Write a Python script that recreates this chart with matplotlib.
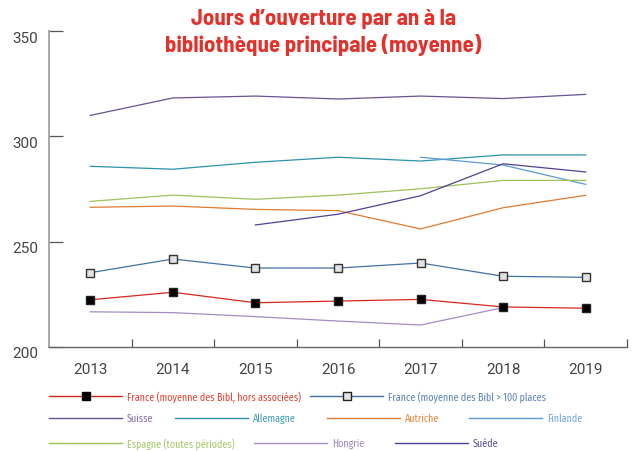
import numpy as np
import matplotlib
matplotlib.use("Agg")
import matplotlib.pyplot as plt
from matplotlib.lines import Line2D
import matplotlib.transforms as mtransforms

nan = np.nan

# data
years = ["2013", "2014", "2015", "2016", "2017", "2018", "2019"]
france_hors = [222.3, 225.9, 220.9, 221.7, 222.5, 218.9, 218.3]
france_100 = [235.2, 241.7, 237.4, 237.4, 239.8, 233.5, 233.0]
suisse = [310.0, 318.3, 319.2, 317.8, 319.2, 318.0, 320.0]
allemagne = [285.8, 284.4, 287.7, 290.1, 288.3, 291.2, 291.2]
autriche = [266.3, 266.9, 265.3, 264.7, 256.0, 266.1, 272.0]
finlande = [nan, nan, nan, nan, 290.1, 286.4, 277.2]
espagne = [269.1, 272.1, 270.1, 272.1, 275.1, 279.1, 279.1]
hongrie = [216.6, 216.2, 214.3, 212.2, 210.3, 218.6, nan]
suede = [nan, nan, 257.9, 263.0, 271.8, 287.0, 283.1]

labels = ["France (moyenne des Bibl, hors associées)",
          "France (moyenne des Bibl > 100 places",
          "Suisse", "Allemagne", "Autriche", "Finlande",
          "Espagne (toutes périodes)", "Hongrie", "Suède"]
series = [france_hors, france_100, suisse, allemagne, autriche,
          finlande, espagne, hongrie, suede]
line_colors = ["#d8281e", "#4470a8", "#6a5196", "#2b93ae", "#e07b2f",
               "#5b9bd5", "#9cc25a", "#a48bc4", "#553f98"]
text_colors = ["#e0402f", "#5b80b6", "#8068a8", "#3a9cb6", "#e3843a",
               "#6fa6d8", "#a3c666", "#9a83bd", "#5a4a9a"]

title_font = ["Barlow Semi Condensed", "Fira Sans Condensed", "DejaVu Sans"]
legend_font = ["Fira Sans Condensed", "Liberation Sans", "DejaVu Sans"]
plt.rcParams["font.family"] = ["Roboto", "DejaVu Sans"]

fig = plt.figure(figsize=(6.34, 4.52), dpi=100)
ax = fig.add_axes([49 / 634, 104.3 / 452, 578 / 634, 315.4 / 452])

x = np.arange(len(years))
for i, (vals, col) in enumerate(zip(series, line_colors)):
    if i == 0:
        ax.plot(x, vals, color=col, lw=0.9, marker="s", ms=5.8,
                mfc="black", mec="#222222", zorder=5)
    elif i == 1:
        ax.plot(x, vals, color=col, lw=0.9, marker="s", ms=5.8,
                mfc="#e2e2e2", mec="#333333", mew=1.0, zorder=5)
    else:
        ax.plot(x, vals, color=col, lw=0.9, zorder=3)

ax.set_xlim(-0.5, 6.5)
ax.set_ylim(200, 350)
ax.set_xticks(x)
ax.set_xticklabels(years)
ax.set_xticks(np.arange(0.5, 7, 1.0), minor=True)
ax.set_yticks([200, 250, 300, 350])

for s in ["top", "right"]:
    ax.spines[s].set_visible(False)
ax.spines["left"].set_color("#a8a8a8")
ax.spines["left"].set_linewidth(1.4)
ax.spines["bottom"].set_color("#666666")
ax.spines["bottom"].set_linewidth(1.0)

ax.tick_params(axis="x", which="major", length=0, pad=11,
               labelsize=11, labelcolor="#444444")
ax.tick_params(axis="x", which="minor", direction="in", length=6,
               width=0.9, color="#555555")
ax.tick_params(axis="y", direction="in", length=10, width=0.9,
               color="#555555", pad=8, labelsize=11, labelcolor="#444444")

offset = mtransforms.ScaledTranslation(0, -5 / 100, fig.dpi_scale_trans)
for lab in ax.get_yticklabels():
    lab.set_transform(lab.get_transform() + offset)

fig.text(323 / 634, 1 - 19 / 452, "Jours d’ouverture par an à la",
         ha="center", va="center", fontsize=16.5, fontweight="bold",
         color="#e2322b", family=title_font)
fig.text(323 / 634, 1 - 45 / 452, "bibliothèque principale (moyenne)",
         ha="center", va="center", fontsize=16.5, fontweight="bold",
         color="#e2322b", family=title_font)

# legend layout: (line start px, row y px) for each entry
leg_pos = [(49, 397), (310, 397),
           (49, 419), (175, 419), (327, 419), (469, 419),
           (49, 444), (254, 444), (395, 444)]
for i, (px, py) in enumerate(leg_pos):
    fy = 1 - py / 452
    x0, x1 = px / 634, (px + 73) / 634
    fig.add_artist(Line2D([x0, x1], [fy, fy], color=line_colors[i],
                          lw=1.0, transform=fig.transFigure))
    if i == 0:
        fig.add_artist(Line2D([(px + 36.5) / 634], [fy], marker="s", ms=5.5,
                              mfc="black", mec="black",
                              transform=fig.transFigure))
    elif i == 1:
        fig.add_artist(Line2D([(px + 36.5) / 634], [fy], marker="s", ms=5.5,
                              mfc="#e2e2e2", mec="#222222", mew=1.0,
                              transform=fig.transFigure))
    fig.text((px + 78) / 634, fy, labels[i], ha="left", va="center",
             fontsize=7.2, color=text_colors[i], family=legend_font)

fig.savefig("out.png", dpi=100)
